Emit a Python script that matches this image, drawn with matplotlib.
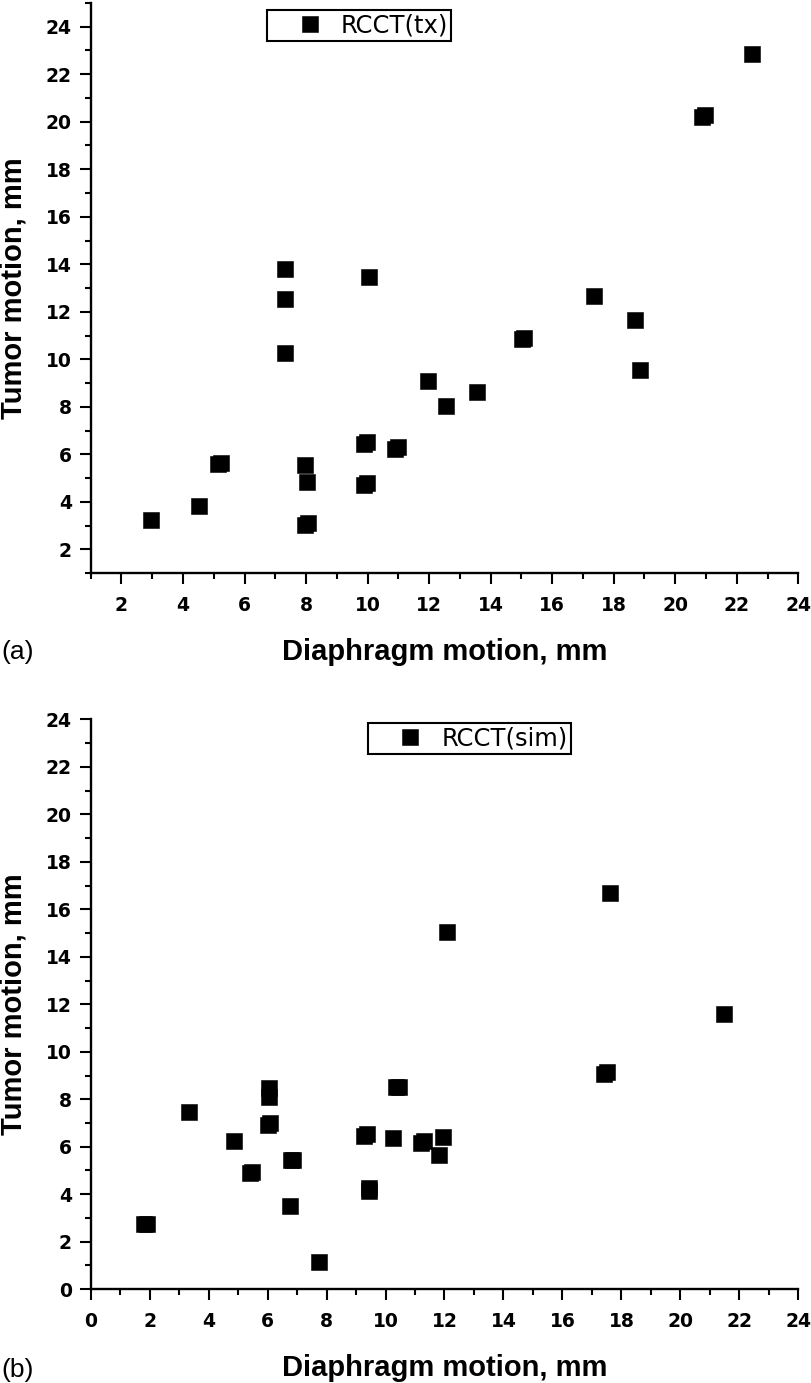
import matplotlib
matplotlib.use('Agg')
import matplotlib.pyplot as plt
from matplotlib.ticker import MultipleLocator

plt.rcParams['font.family'] = ['Liberation Sans', 'DejaVu Sans']

# (a) RCCT(tx): diaphragm vs tumor motion, mm (overlapping patients listed twice)
tx_diaphragm = [22.5, 20.88, 20.98, 7.3, 10.05, 7.3, 17.35, 18.68, 15.03, 15.1,
                7.3, 18.87, 11.95, 13.55, 12.55, 9.88, 9.98, 10.88, 10.98,
                5.15, 5.25, 7.95, 8.03, 9.88, 9.98, 4.52, 2.95, 7.98, 8.06]
tx_tumor = [22.85, 20.18, 20.28, 13.8, 13.45, 12.55, 12.65, 11.65, 10.85, 10.9,
            10.25, 9.55, 9.1, 8.62, 8.05, 6.45, 6.52, 6.22, 6.3,
            5.6, 5.66, 5.55, 4.82, 4.73, 4.8, 3.85, 3.22, 3.02, 3.1]

# (b) RCCT(sim)
sim_diaphragm = [12.08, 17.6, 21.47, 17.42, 17.52, 10.35, 10.45, 6.05, 6.05,
                 3.35, 6.02, 6.08, 9.28, 9.36, 10.25, 11.22, 11.3, 11.95,
                 11.82, 4.85, 6.78, 6.86, 5.42, 5.48, 9.45, 9.45, 6.75,
                 1.82, 1.9, 7.75]
sim_tumor = [15.05, 16.7, 11.57, 9.06, 9.14, 8.5, 8.5, 8.47, 8.1,
             7.45, 6.92, 7.0, 6.47, 6.55, 6.35, 6.17, 6.23, 6.42,
             5.65, 6.25, 5.45, 5.45, 4.88, 4.95, 4.15, 4.25, 3.5,
             2.75, 2.75, 1.15]

panels = [
    dict(x=tx_diaphragm, y=tx_tumor, label='RCCT(tx)', tag='(a)',
         xlim=(1, 24), ylim=(1, 25), legend_at=(0.2496, 0.9877)),
    dict(x=sim_diaphragm, y=sim_tumor, label='RCCT(sim)', tag='(b)',
         xlim=(0, 24), ylim=(0, 24), legend_at=(0.392, 0.9935)),
]

fig = plt.figure(figsize=(8.12, 13.83), dpi=100)
axes_rects = [[0.1117, 0.5855, 0.8714, 0.4124],
              [0.1117, 0.0678, 0.8714, 0.4121]]
tag_y = [0.5235, 0.0046]

for p, rect, ty in zip(panels, axes_rects, tag_y):
    ax = fig.add_axes(rect)
    ax.plot(p['x'], p['y'], linestyle='none', marker='s', markersize=11.5,
            color='black', markeredgecolor='black', markeredgewidth=0.4,
            label=p['label'])

    ax.set_xlim(*p['xlim'])
    ax.set_ylim(*p['ylim'])
    ax.xaxis.set_major_locator(MultipleLocator(2))
    ax.xaxis.set_minor_locator(MultipleLocator(1))
    ax.yaxis.set_major_locator(MultipleLocator(2))
    ax.yaxis.set_minor_locator(MultipleLocator(1))

    for side in ['top', 'right']:
        ax.spines[side].set_visible(False)
    for side in ['left', 'bottom']:
        ax.spines[side].set_linewidth(1.7)

    ax.tick_params(which='major', direction='out', length=8, width=1.5)
    ax.tick_params(which='minor', direction='out', length=4, width=1.5)
    ax.tick_params(axis='x', which='major', pad=8.5)
    ax.tick_params(axis='y', which='major', pad=5.5)
    # the original tick digits are wide and bold
    for lab in ax.get_xticklabels() + ax.get_yticklabels():
        lab.set_family('DejaVu Sans')
        lab.set_fontsize(13.5)
        lab.set_fontweight('bold')

    ax.set_xlabel('Diaphragm motion, mm', fontsize=21, fontweight='bold')
    ax.xaxis.set_label_coords(0.5, -0.152)
    ax.xaxis.label.set_va('baseline')
    ax.set_ylabel('Tumor motion, mm', fontsize=21, fontweight='bold')
    ax.yaxis.set_label_coords(-0.0975, 0.5)
    ax.yaxis.label.set_va('baseline')

    leg = ax.legend(loc='upper left', bbox_to_anchor=p['legend_at'],
                    borderaxespad=0,
                    prop={'family': 'DejaVu Sans', 'size': 17.5},
                    fancybox=False, borderpad=0.14, handlelength=3.2,
                    handletextpad=-0.33, framealpha=1)
    leg.get_frame().set_edgecolor('black')
    leg.get_frame().set_linewidth(1.5)

    fig.text(0.002, ty, p['tag'], fontsize=19, va='baseline', ha='left')

plt.savefig('out.png', dpi=100)
